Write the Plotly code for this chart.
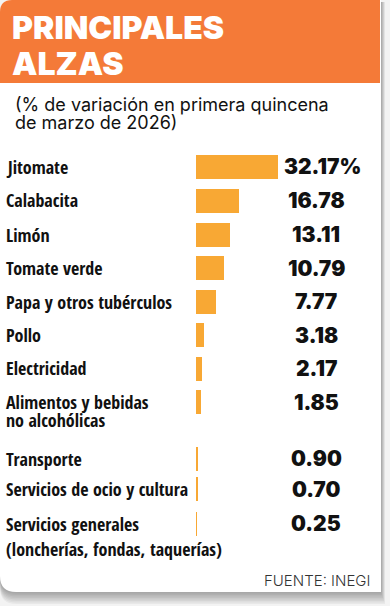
import plotly.graph_objects as go

# ---------------- data ----------------
categories = [
    "Jitomate", "Calabacita", "Limón", "Tomate verde", "Papa y otros tubérculos",
    "Pollo", "Electricidad", "Alimentos y bebidas\nno alcohólicas", "Transporte",
    "Servicios de ocio y cultura", "Servicios generales\n(loncherías, fondas, taquerías)",
]
values = [32.17, 16.78, 13.11, 10.79, 7.77, 3.18, 2.17, 1.85, 0.90, 0.70, 0.25]
title_lines = ["PRINCIPALES", "ALZAS"]
subtitle_lines = ["(% de variación en primera quincena", "de marzo de 2026)"]
source = "FUENTE: INEGI"

# ---------------- layout (pixels) ----------------
W, H = 390, 606
BAR_LEFT = 196.0      # pixel where value 0 sits
PX_PER_UNIT = 2.56
BAR_H = 24
first_row = 167
row_gaps = [33.5, 34, 33.5, 33.5, 33.5, 33.5, 33.5, 56.5, 30.5, 34.5]
second_line_gap = [0, 0, 0, 0, 0, 0, 0, 18, 0, 0, 25]
VALUE_CENTER = 316
CARD_R, CARD_B = 381, 592

rows = [first_row]
for g in row_gaps:
    rows.append(rows[-1] + g)

ORANGE = "#F47A38"
BAR = "#F8A834"
INK = "#111111"
LABEL_FONT = "Open Sans Condensed, Roboto Condensed, DejaVu Sans Condensed, sans-serif"
NUM_FONT = "Inter, Lato, sans-serif"


def px(x):
    return x / W


def py(y):
    return 1 - y / H


def card_path(right, bottom, top=0, r_tl=12, r_bl=16):
    return (f"M {px(0)} {py(top + r_tl)} Q {px(0)} {py(top)} {px(r_tl)} {py(top)} "
            f"L {px(right)} {py(top)} L {px(right)} {py(bottom)} "
            f"L {px(r_bl)} {py(bottom)} Q {px(0)} {py(bottom)} {px(0)} {py(bottom - r_bl)} Z")


fig = go.Figure()
fig.add_trace(go.Bar(
    x=values, y=rows, orientation="h", width=BAR_H,
    marker=dict(color=BAR, line=dict(width=0)), hoverinfo="skip",
))

x_min = -BAR_LEFT / PX_PER_UNIT
x_max = (W - BAR_LEFT) / PX_PER_UNIT

shapes = []
# soft card shadow (wider below, thin on the right)
for k in range(8, 0, -1):
    shapes.append(dict(type="path", xref="paper", yref="paper",
                       path=card_path(CARD_R + k * 0.5, CARD_B + k * 1.5, top=2),
                       fillcolor="rgba(0,0,0,0.045)", line=dict(width=0), layer="below"))
# card
shapes.append(dict(type="path", xref="paper", yref="paper", path=card_path(CARD_R, CARD_B),
                   fillcolor="white", line=dict(width=0), layer="below"))
# orange header
shapes.append(dict(type="path", xref="paper", yref="paper",
                   path=f"M {px(0)} {py(83)} L {px(0)} {py(12)} Q {px(0)} {py(0)} {px(12)} {py(0)} "
                        f"L {px(380)} {py(0)} L {px(380)} {py(83)} Z",
                   fillcolor=ORANGE, line=dict(width=0), layer="below"))

ann = []
# title
for i, t in enumerate(title_lines):
    ann.append(dict(text=t, x=px(10), y=py(27 + i * 36.5), xref="paper", yref="paper",
                    xanchor="left", yanchor="middle", showarrow=False,
                    font=dict(family=NUM_FONT, size=32, color="white", weight=900)))
# subtitle
for i, t in enumerate(subtitle_lines):
    ann.append(dict(text=t, x=px(13), y=py(105 + i * 17), xref="paper", yref="paper",
                    xanchor="left", yanchor="middle", showarrow=False,
                    font=dict(family="Inter, sans-serif", size=18, color=INK)))
# labels and values
for i, (c, v, yc) in enumerate(zip(categories, values, rows)):
    parts = c.split("\n")
    for j, p in enumerate(parts):
        ann.append(dict(text=p, x=px(3.5), y=py(yc + j * second_line_gap[i]), xref="paper", yref="paper",
                        xanchor="left", yanchor="middle", showarrow=False,
                        font=dict(family=LABEL_FONT, size=18, color=INK, weight="bold")))
    label = f"{v:.2f}" + ("%" if i == 0 else "")
    ann.append(dict(text=label, x=px(VALUE_CENTER + (6 if i == 0 else 0)), y=py(yc),
                    xref="paper", yref="paper",
                    xanchor="center", yanchor="middle", showarrow=False,
                    font=dict(family=NUM_FONT, size=21, color=INK, weight=900)))
# source
ann.append(dict(text=source, x=px(372), y=py(580), xref="paper", yref="paper",
                xanchor="right", yanchor="middle", showarrow=False,
                font=dict(family="Inter, sans-serif", size=15, color="#333333", weight=300)))

fig.update_layout(
    width=W, height=H, margin=dict(l=0, r=0, t=0, b=0),
    paper_bgcolor="#f3f3f3", plot_bgcolor="rgba(0,0,0,0)",
    showlegend=False, bargap=0,
    xaxis=dict(range=[x_min, x_max], visible=False, fixedrange=True),
    yaxis=dict(range=[H, 0], visible=False, fixedrange=True),
    shapes=shapes, annotations=ann,
)

fig.write_html("out.html", config={"displayModeBar": False},
               post_script="document.body.style.margin='0';")
